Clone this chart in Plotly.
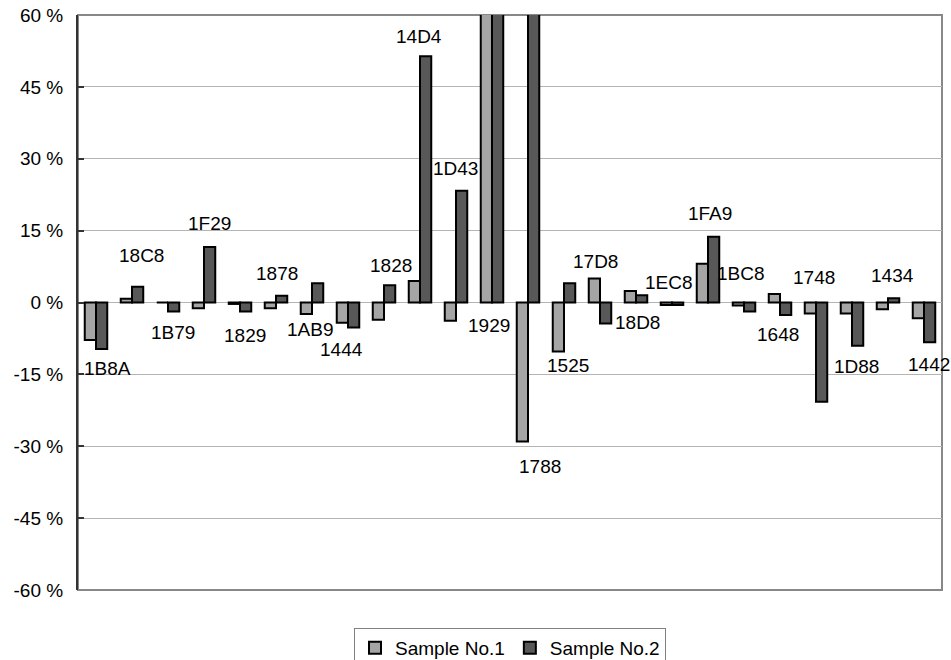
import plotly.graph_objects as go

categories = ["1B8A", "18C8", "1B79", "1F29", "1829", "1878", "1AB9", "1444",
              "1828", "14D4", "1D43", "1929", "1788", "1525", "17D8", "18D8",
              "1EC8", "1FA9", "1BC8", "1648", "1748", "1D88", "1434", "1442"]

sample1 = [-7.8, 0.8, 0.0, -1.2, -0.3, -1.2, -2.4, -4.2,
           -3.6, 4.5, -3.8, 85.0, -29.0, -10.2, 5.0, 2.4,
           -0.5, 8.1, -0.6, 1.8, -2.3, -2.3, -1.4, -3.3]

sample2 = [-9.7, 3.3, -1.9, 11.6, -1.9, 1.4, 4.0, -5.2,
           3.6, 51.4, 23.3, 90.0, 95.0, 4.0, -4.4, 1.5,
           -0.5, 13.7, -1.9, -2.6, -20.7, -9.0, 0.9, -8.3]

series_names = ["Sample No.1", "Sample No.2"]
y_ticks = [-60, -45, -30, -15, 0, 15, 30, 45, 60]
y_tick_labels = [f"{v} %" for v in y_ticks]

# label placement (value-axis position in %, horizontal offset in px)
label_y = [-13.7, 9.9, -6.2, 16.5, -6.8, 6.1, -5.6, -9.9,
           7.8, 55.5, 28.0, -4.9, -34.3, -13.1, 8.6, -4.1,
           4.2, 18.6, 6.1, -6.6, 5.3, -13.3, 5.7, -12.9]
label_dx = [11, 9, 4.5, 5, 5, 1, -2.5, -7,
            6.5, -1, -0.5, -3, 12, 4, -5, 1,
            -3, 1.5, -3, -2.5, -2.5, 4, 4.5, 5]

FONT = "Liberation Sans, Arial, sans-serif"

fig = go.Figure()
fig.add_trace(go.Bar(x=categories, y=sample1, name=series_names[0],
                     marker=dict(color="#a5a5a5", line=dict(color="#000000", width=2))))
fig.add_trace(go.Bar(x=categories, y=sample2, name=series_names[1],
                     marker=dict(color="#585858", line=dict(color="#000000", width=2))))

for i, (c, ly, dx) in enumerate(zip(categories, label_y, label_dx)):
    fig.add_annotation(x=i, y=ly, text=c, showarrow=False, xanchor="center",
                       yanchor="middle", xshift=dx,
                       font=dict(family=FONT, size=19, color="#000000"))

fig.add_shape(type="rect", xref="paper", yref="paper", x0=0, x1=1, y0=0, y1=1,
              line=dict(color="#888888", width=2), layer="between")

fig.update_layout(
    width=951, height=660,
    margin=dict(l=78, r=9, t=15, b=70, autoexpand=False),
    paper_bgcolor="white", plot_bgcolor="white",
    barmode="group", bargap=0.375, bargroupgap=0,
    font=dict(family=FONT, size=19, color="#000000"),
    showlegend=True,
    legend=dict(orientation="h", x=0.5, xanchor="center", y=-0.066, yanchor="top",
                bordercolor="#808080", borderwidth=1, bgcolor="white",
                font=dict(family=FONT, size=19, color="#000000"),
                itemwidth=30, tracegroupgap=0),
    xaxis=dict(type="category", range=[-0.5, len(categories) - 0.5],
               showticklabels=False, showgrid=False, automargin=False,
               zeroline=False, showline=False, ticks=""),
    yaxis=dict(range=[-60, 60], tickvals=y_ticks, ticktext=y_tick_labels,
               automargin=False,
               showgrid=True, gridcolor="#b4b4b4", gridwidth=1, zeroline=False,
               showline=True, linecolor="#333333", linewidth=2,
               ticks="inside", ticklen=6, tickcolor="#333333", tickwidth=2,
               ticklabelstandoff=9,
               tickfont=dict(family=FONT, size=19, color="#000000")),
)

fig.write_html("out.html", config={"displayModeBar": False},
               post_script="document.body.style.margin='0';document.body.style.overflow='hidden';")
